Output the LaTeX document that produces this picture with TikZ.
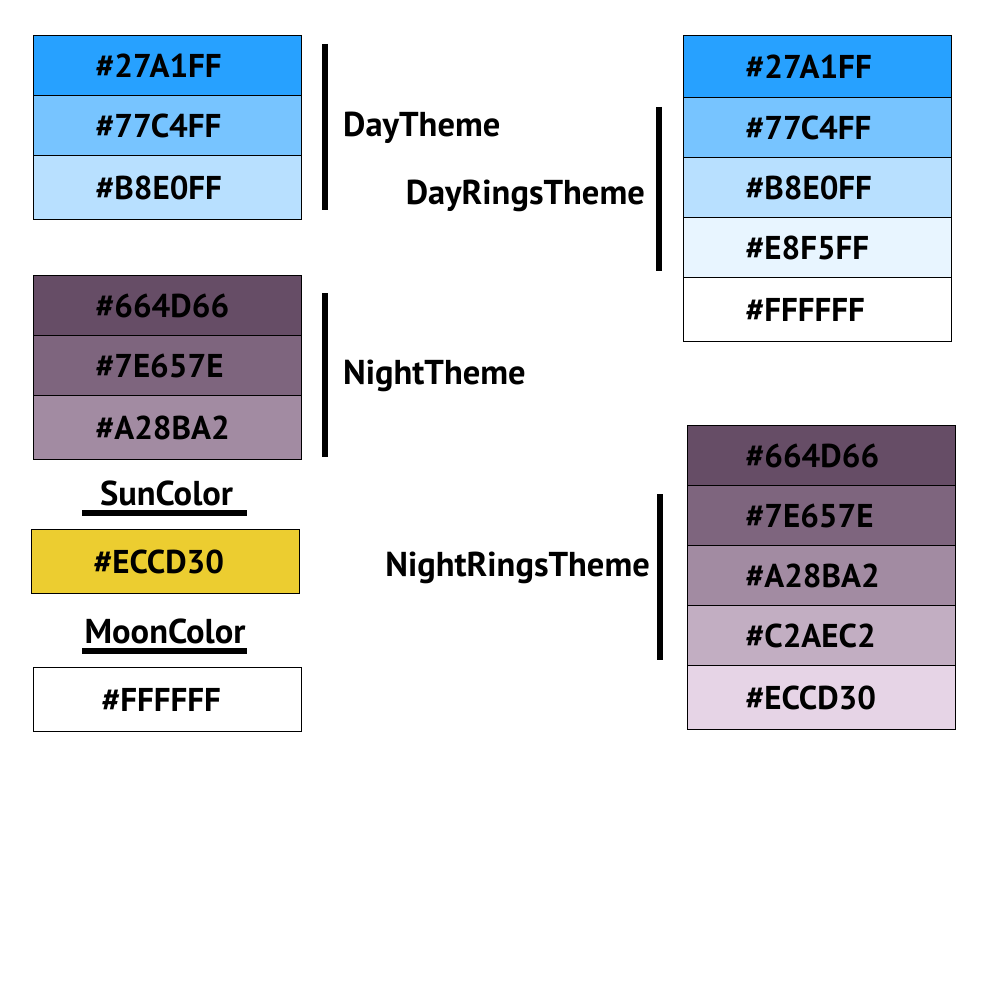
\documentclass[tikz,border=0pt]{standalone}
\usepackage{fontspec}
\setmainfont{PT Sans}
\definecolor{cA}{HTML}{27A1FF}
\definecolor{cB}{HTML}{77C4FF}
\definecolor{cC}{HTML}{B8E0FF}
\definecolor{cD}{HTML}{E8F5FF}
\definecolor{nA}{HTML}{664D66}
\definecolor{nB}{HTML}{7E657E}
\definecolor{nC}{HTML}{A28BA2}
\definecolor{nD}{HTML}{C2AEC2}
\definecolor{nE}{HTML}{E6D4E6}
\definecolor{sun}{HTML}{ECCD30}
\begin{document}
\begin{tikzpicture}[x=1pt,y=-1pt,
  cell/.style={draw=black, line width=1.2pt, rectangle, anchor=north west,
    minimum width=268pt, text width=144pt, inner xsep=62pt, inner ysep=0pt, align=left,
    font=\fontsize{33}{38}\selectfont\bfseries},
  lbl/.style={anchor=west, inner sep=0pt, font=\fontsize{34.5}{40}\selectfont\bfseries},
  bar/.style={line width=6pt}]
\useasboundingbox[fill=white] (0,0) rectangle (1000,1000);
% DayTheme
\node[cell, fill=cA, minimum height=60pt] (d1) at (33,35) {\#27A1FF};
\node[cell, fill=cB, minimum height=60pt] (d2) at (33,95) {\#77C4FF};
\node[cell, fill=cC, minimum height=64pt] (d3) at (33,155) {\#B8E0FF};
\draw[bar] (324.5,44) -- (324.5,210);
\node[lbl] (dayl) at (343,128) {DayTheme};
% NightTheme
\node[cell, fill=nA, minimum height=60pt] (n1) at (33,275) {\#664D66};
\node[cell, fill=nB, minimum height=60pt] (n2) at (33,335) {\#7E657E};
\node[cell, fill=nC, minimum height=64pt] (n3) at (33,395) {\#A28BA2};
\draw[bar] (324.5,293) -- (324.5,457);
\node[lbl] (nightl) at (343,376) {NightTheme};
% SunColor
\node[lbl, anchor=center] (sunl) at (166.5,493) {SunColor};
\draw[bar] (82,513) -- (247,513);
\node[cell, fill=sun, minimum height=64pt] (sun) at (31,529) {\#ECCD30};
% MoonColor
\node[lbl, anchor=center] (moonl) at (165,631) {MoonColor};
\draw[bar] (82,651) -- (247,651);
\node[cell, fill=white, minimum height=64pt, inner xsep=68pt, text width=132pt] (moon) at (33,667) {\#FFFFFF};
% DayRingsTheme
\node[cell, fill=cA, minimum height=62pt] (r1) at (683,35) {\#27A1FF};
\node[cell, fill=cB, minimum height=60pt] (r2) at (683,97) {\#77C4FF};
\node[cell, fill=cC, minimum height=60pt] (r3) at (683,157) {\#B8E0FF};
\node[cell, fill=cD, minimum height=60pt] (r4) at (683,217) {\#E8F5FF};
\node[cell, fill=white, minimum height=64pt] (r5) at (683,277) {\#FFFFFF};
\draw[bar] (659,107) -- (659,271);
\node[lbl, anchor=east] (dayrl) at (645,196) {DayRingsTheme};
% NightRingsTheme
\node[cell, fill=nA, minimum height=60pt, inner xsep=58pt, text width=152pt] (q1) at (687,425) {\#664D66};
\node[cell, fill=nB, minimum height=60pt, inner xsep=58pt, text width=152pt] (q2) at (687,485) {\#7E657E};
\node[cell, fill=nC, minimum height=60pt, inner xsep=58pt, text width=152pt] (q3) at (687,545) {\#A28BA2};
\node[cell, fill=nD, minimum height=60pt, inner xsep=58pt, text width=152pt] (q4) at (687,605) {\#C2AEC2};
\node[cell, fill=nE, minimum height=64pt, inner xsep=58pt, text width=152pt] (q5) at (687,665) {\#ECCD30};
\draw[bar] (660,494) -- (660,660);
\node[lbl, anchor=east] (nightrl) at (650,568) {NightRingsTheme};
\end{tikzpicture}
\end{document}
